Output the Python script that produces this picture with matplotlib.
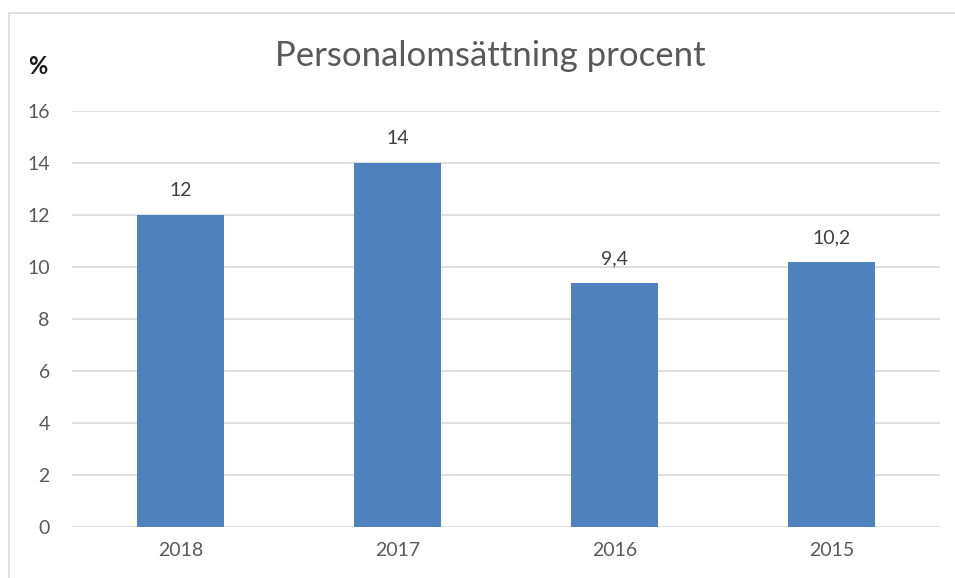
import matplotlib
matplotlib.use("Agg")
import matplotlib.pyplot as plt
from matplotlib.patches import Rectangle

categories = ["2018", "2017", "2016", "2015"]
values = [12, 14, 9.4, 10.2]
labels = ["12", "14", "9,4", "10,2"]
yticks = [0, 2, 4, 6, 8, 10, 12, 14, 16]

plt.rcParams['font.family'] = ['Lato', 'DejaVu Sans']

W, H = 955, 578
fig = plt.figure(figsize=(W / 100, H / 100), dpi=100)
fig.patch.set_facecolor('white')

# outer chart border
fig.add_artist(Rectangle((9 / W, -0.05), 1.0, (H - 13) / H + 0.05, transform=fig.transFigure,
                         fill=False, edgecolor='#D9D9D9', linewidth=1.2))

ax = fig.add_axes([72 / W, (H - 527) / H, (940 - 72) / W, (527 - 111) / H])
x = range(len(categories))
ax.bar(x, values, width=0.4, color='#4F81BD', zorder=3)
for xi, v, lab in zip(x, values, labels):
    ax.text(xi, v + 0.6, lab, ha='center', va='bottom', fontsize=14, color='#404040')

ax.set_xlim(-0.5, len(categories) - 0.5)
ax.set_ylim(0, 16)
ax.set_yticks(yticks)
ax.set_yticklabels([str(t) for t in yticks])
ax.set_xticks(list(x))
ax.set_xticklabels(categories)
ax.tick_params(axis='both', length=0, labelsize=14, colors='#595959')
ax.tick_params(axis='y', pad=16)
ax.tick_params(axis='x', pad=11)
ax.grid(axis='y', color='#D9D9D9', linewidth=1.2, zorder=0)
for s in ax.spines.values():
    s.set_visible(False)

fig.text(490 / W, (H - 56) / H, "Personalomsättning procent", ha='center', va='center',
         fontsize=25, color='#595959')
fig.text(38 / W, (H - 66) / H, "%", ha='center', va='center', fontsize=17,
         fontweight='bold', color='#1a1a1a')

fig.savefig("out.png", dpi=100)
